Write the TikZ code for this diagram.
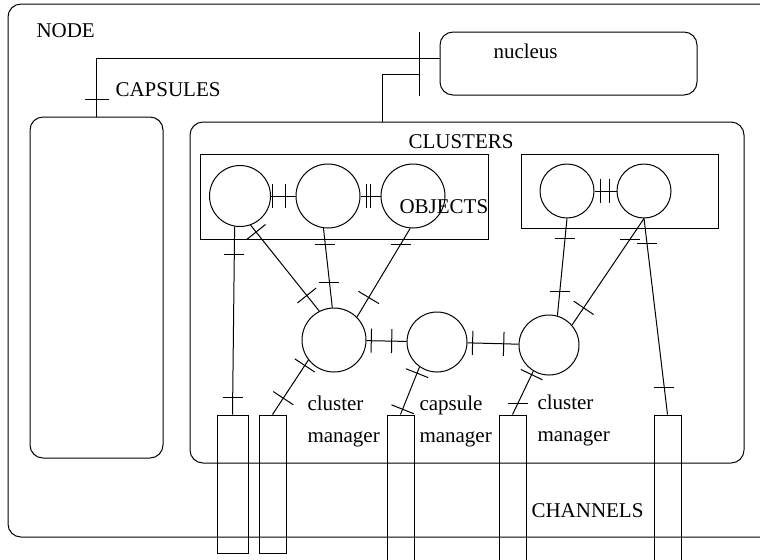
\documentclass[tikz,border=0pt]{standalone}
\usepackage{fontspec}
\setmainfont{Liberation Serif}
\usetikzlibrary{decorations.markings}

\tikzset{
  frame/.style={draw, rounded corners=6.5pt, inner sep=0pt},
  group/.style={draw, inner sep=0pt},
  obj/.style={circle, draw, inner sep=0pt, minimum size=#1},
  chan/.style={draw, inner sep=0pt, minimum width=13.5pt, minimum height=72.5pt},
  lbl/.style={inner sep=0pt, anchor=base west, font=\fontsize{10.5}{16}\selectfont},
  % cross bar on a link, at a fraction of its length
  bar/.style={postaction={decorate, decoration={markings,
      mark=at position #1 with {\draw (0,-6pt) -- (0,6pt);}}}},
  % same, but always level
  hbar/.style={postaction={decorate, decoration={markings,
      mark=at position #1 with {\pgftransformresetnontranslations
        \draw (-5pt,0) -- (5pt,0);}}}},
}

\begin{document}
\begin{tikzpicture}[x=0.5pt, y=-0.5pt, line width=0.5pt]
\useasboundingbox (0,0) rectangle (760,559);
\clip (0,0) rectangle (760,559);

% boxes
\node[frame, minimum width=383.5pt, minimum height=266.5pt] (node) at (391.5,270.5) {};
\node[frame, minimum width=66.5pt, minimum height=170.5pt] (capsules) at (96.5,287.5) {};
\node[frame, minimum width=128.5pt, minimum height=31.5pt] (nucleus) at (568.5,63.5) {};
\node[frame, minimum width=277pt, minimum height=170.5pt] (clusters) at (467,292.5) {};
\node[group, minimum width=144pt, minimum height=42.5pt] (grp1) at (344,196.5) {};
\node[group, minimum width=98.5pt, minimum height=37pt] (grp2) at (619.5,191) {};

% objects and managers
\node[obj=30.5pt] (o1) at (240,196) {};
\node[obj=32pt] (o2) at (328,196) {};
\node[obj=32pt] (o3) at (413,196) {};
\node[obj=27pt] (o4) at (567,191) {};
\node[obj=27pt] (o5) at (644,191) {};
\node[obj=32pt] (m1) at (334,340) {};
\node[obj=30pt] (m2) at (437,342) {};
\node[obj=30pt] (m3) at (549,345) {};

% channels
\node[chan, minimum width=15.5pt, minimum height=69pt] (ch1) at (232.5,484) {};
\node[chan, minimum height=69pt] (ch2) at (272.5,484) {};
\node[chan] (ch3) at (400.5,487.5) {};
\node[chan] (ch4) at (512.5,487.5) {};
\node[chan] (ch5) at (667.5,487.5) {};

% nucleus links
\coordinate (bus) at (419,74);
\draw (bus |- nucleus.north) -- (bus |- nucleus.south);
\draw[bar=0.958] ([yshift=2.75pt]nucleus.west) -| (capsules.north);
\draw (bus) -| ([xshift=-42.5pt]clusters.north);

% links inside the groups
\draw[bar=0.08, bar=0.6] (o1) -- (o2);
\draw[bar=0.28, bar=0.48] (o2) -- (o3);
\draw[bar=0.26, bar=0.7] (o4) -- (o5);

% objects to managers and channels
\draw[hbar=0.15, hbar=0.91] (o1.-100) -- (ch1.north);
\draw[bar=0.08, bar=0.82] (o1.-70) -- (m1.117);
\draw[hbar=0.2, hbar=0.68] (o2.-98) -- (m1.93);
\draw[hbar=0.18, bar=0.78] (o3.-95) -- (m1.45);
\draw[hbar=0.21, hbar=0.75] (o4.south) -- (m3.74);
\draw[hbar=0.2, bar=0.84] (o5.south) -- (m3.41);
\draw[hbar=0.13, hbar=0.86] (o5.south) -- (ch5.north);

% managers
\draw[bar=0.12, bar=0.63] (m1) -- (m2);
\draw[bar=0.1, bar=0.71] (m2) -- (m3);
\draw[bar=0.1, bar=0.7] (m1.218) -- (ch2.north);
\draw[bar=0.13, bar=0.89] (m2.235) -- (ch3.north);
\draw[bar=0.08, hbar=0.75] (m3.239) -- (ch4.north);

% labels
\node[lbl] (nodelbl) at (36,37) {NODE};
\node[lbl] (caplbl) at (115,96) {CAPSULES};
\node[lbl] (nuclbl) at (493,58) {nucleus};
\node[lbl] (clulbl) at (408,148) {CLUSTERS};
\node[lbl] (objlbl) at (399,213) {OBJECTS};
\node[lbl] (chanlbl) at (531,517) {CHANNELS};
\node[lbl, align=left] (mgr1) at (307,442) {cluster\\manager};
\node[lbl, align=left] (mgr2) at (419,442) {capsule\\manager};
\node[lbl, align=left] (mgr3) at (537,441) {cluster\\manager};
\end{tikzpicture}
\end{document}
